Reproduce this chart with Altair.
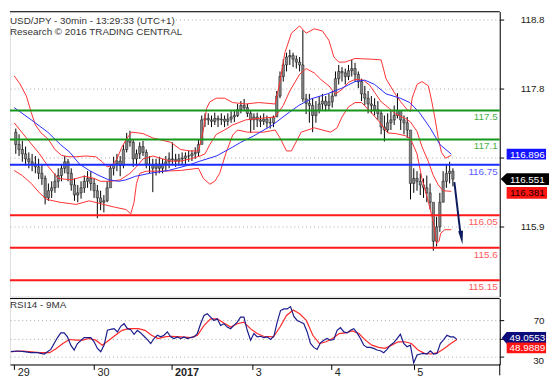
import altair as alt
import pandas as pd

# ---------------- data ----------------
bar_index = list(range(-2, 267, 2))          # 30-min bar number (0 = 29 Dec 00:00)
first_open = 117.20
bar_high = [117.25,117.17,117.08,117.00,116.92,116.90,116.87,116.83,116.76,116.60,
            116.49,116.52,116.63,116.70,116.76,116.87,116.83,116.70,116.56,116.47,
            116.52,116.60,116.66,116.66,116.56,116.47,116.39,116.33,116.52,116.76,
            116.86,116.90,116.87,117.03,117.19,117.22,117.10,116.96,117.06,117.08,
            116.96,116.87,116.83,116.83,116.86,116.83,116.87,116.92,117.06,116.90,
            116.90,116.92,116.92,116.94,116.95,116.99,117.10,117.43,117.46,117.46,
            117.43,117.47,117.43,117.46,117.43,117.46,117.49,117.50,117.59,117.63,
            117.66,117.59,117.50,117.46,117.47,117.43,117.46,117.43,117.41,117.43,
            117.77,118.04,118.21,118.30,118.34,118.30,118.26,118.24,118.61,117.73,
            117.73,117.67,117.63,117.70,117.73,117.70,117.73,117.77,118.04,118.13,
            118.10,118.08,118.13,118.20,118.16,118.04,117.94,117.84,117.77,117.70,
            117.67,117.63,117.50,117.43,117.46,117.50,117.57,117.74,117.50,117.43,
            117.41,117.23,116.70,116.66,116.63,116.56,116.60,116.49,116.16,116.03,
            116.36,116.66,116.76,116.79,116.70]
bar_low = [116.90,116.87,116.79,116.74,116.70,116.66,116.63,116.55,116.47,116.20,
           116.25,116.29,116.36,116.43,116.52,116.63,116.52,116.39,116.25,116.23,
           116.28,116.36,116.43,116.39,116.29,116.01,116.12,116.09,116.23,116.47,
           116.60,116.66,116.59,116.70,116.92,117.00,116.72,116.74,116.83,116.87,
           116.70,116.63,116.37,116.60,116.63,116.63,116.66,116.70,116.74,116.72,
           116.74,116.76,116.76,116.79,116.80,116.83,116.87,117.06,117.27,117.30,
           117.27,117.30,117.27,117.30,117.27,117.29,117.33,117.34,117.41,117.46,
           117.49,117.41,117.19,117.23,117.27,117.27,117.30,117.26,117.25,117.27,
           117.41,117.67,117.90,118.04,118.13,118.10,118.08,118.04,117.62,117.45,
           117.33,117.20,117.33,117.46,117.51,117.49,117.50,117.54,117.70,117.86,
           117.90,117.86,117.92,117.97,117.90,117.81,117.63,117.57,117.46,117.46,
           117.43,117.37,117.17,117.07,117.19,117.23,117.30,117.39,117.23,117.17,
           117.12,116.27,116.36,116.39,116.33,116.29,116.23,116.13,115.56,115.62,
           115.82,116.29,116.43,116.49,116.45]
bar_close = [117.03,116.96,116.90,116.83,116.79,116.76,116.72,116.63,116.56,116.29,
             116.39,116.43,116.52,116.60,116.70,116.79,116.63,116.47,116.33,116.36,
             116.43,116.52,116.56,116.49,116.39,116.29,116.23,116.25,116.43,116.70,
             116.76,116.80,116.74,116.96,117.10,117.06,116.83,116.90,117.00,116.92,
             116.76,116.74,116.70,116.76,116.70,116.76,116.79,116.83,116.82,116.80,
             116.83,116.84,116.87,116.87,116.90,116.92,117.03,117.37,117.39,117.37,
             117.35,117.39,117.37,117.38,117.35,117.38,117.41,117.43,117.51,117.57,
             117.54,117.46,117.37,117.41,117.37,117.35,117.38,117.33,117.33,117.41,
             117.70,117.97,118.13,118.24,118.26,118.21,118.17,118.13,117.66,117.60,
             117.57,117.43,117.50,117.59,117.63,117.57,117.62,117.70,117.94,118.04,
             118.02,117.97,118.05,118.08,118.00,117.90,117.73,117.67,117.59,117.57,
             117.51,117.46,117.27,117.23,117.33,117.37,117.43,117.50,117.37,117.33,
             117.23,116.49,116.56,116.52,116.47,116.43,116.36,116.23,115.69,115.89,
             116.23,116.52,116.63,116.66,116.55]

bb_upper_idx = [-3,0.5,4.5,7.5,10,13.5,18,22,26,30,35,41,47,51,54,57,60,63,66,69,
                73,76,82,93,99,105,110,113,115,117,121,126,131,139,147,157,160,163,167,172,
                176,181,186,190,193,196,200,206,216,222,225,230,234,238,240,241,244,247,251,253,
                255,257,259,261.5,265]
bb_upper = [117.98,117.87,117.70,117.47,117.30,117.19,117.10,116.96,116.88,116.86,116.86,116.87,116.86,116.79,116.72,116.74,116.83,116.99,117.11,117.20,
            117.19,117.18,117.12,117.06,116.96,116.94,116.94,117.23,117.53,117.62,117.67,117.67,117.61,117.59,117.61,117.59,117.90,118.30,118.57,118.67,
            118.57,118.63,118.60,118.47,118.24,118.17,118.17,118.22,118.21,118.20,117.94,117.75,117.62,117.51,117.49,117.67,117.86,117.90,117.84,117.63,
            117.39,117.12,116.92,116.84,116.88]
bb_mid_idx = [-3,4.5,12.5,18,24,32,40,46,50,56,62,68,72,76,82,88,93,99,105,111,
              114,117,121,126,131,139,147,157,162,166,172,176,181,185,190,194,198,202,206,211,
              215,218,222,227,231,237,240,244,247,251,254,257,260,265]
bb_mid = [117.33,117.12,116.90,116.72,116.56,116.54,116.59,116.56,116.52,116.52,116.54,116.63,116.72,116.83,116.87,116.83,116.80,116.80,116.83,116.87,
          116.90,117.03,117.17,117.23,117.30,117.37,117.39,117.41,117.57,117.77,118.00,118.08,118.02,117.93,117.84,117.73,117.79,117.89,117.93,117.92,
          117.85,117.75,117.62,117.53,117.45,117.39,117.34,117.21,117.00,116.79,116.60,116.47,116.39,116.381]
bb_low_idx = [-3,2,7.5,12.5,17,25,35,43,50,59,65.5,68.5,70.5,72,74,78,88,99,110,113,
              117,120,123,127,131,134,140,150,157,160,164,167,173,181,191,195,198,202,206,210,
              216,221,226,231,237,240,244,247,251,254,256,257.5,258.5,261,265]
bb_low = [116.67,116.60,116.49,116.36,116.27,116.23,116.20,116.25,116.21,116.16,116.13,116.07,116.23,116.49,116.63,116.66,116.66,116.67,116.70,116.56,
          116.48,116.52,116.63,116.92,117.16,117.23,117.20,117.20,117.23,117.12,116.94,116.94,117.20,117.26,117.20,117.26,117.41,117.55,117.61,117.61,
          117.47,117.34,117.19,117.18,117.15,117.11,116.90,116.56,116.23,115.96,115.66,115.69,115.80,115.85,115.85]
ma_idx = [-3,7.5,17.6,25.3,31.2,37,43,49,55,61,65.5,71.5,80,91.6,103.4,111,121,130.7,136,144,
          155.5,163,171.5,179,189,198,206,212,218,225,233.7,239.6,245.5,252,258,265]
ma_val = [117.54,117.37,117.20,117.03,116.92,116.76,116.67,116.60,116.54,116.52,116.54,116.59,116.63,116.67,116.74,116.80,116.87,116.99,117.06,117.15,
          117.30,117.43,117.57,117.66,117.73,117.81,117.90,117.92,117.86,117.73,117.67,117.61,117.47,117.26,117.03,116.896]

rsi_idx = [-2,2,6,10,14,18,22,26,28,30,32,34,36,38,42,46,48,50,52,54,
           56,58,60,62,64,66,68,70,72,74,76,78,80,82,84,86,88,90,92,94,
           96,98,100,102,104,106,108,110,112,114,116,118,120,122,124,126,128,130,132,134,
           136,138,140,142,144,146,148,150,152,154,156,158,160,162,164,166,168,170,172,174,
           176,178,180,182,184,186,188,190,192,194,196,198,200,202,204,206,208,210,212,214,
           216,218,220,222,224,226,228,230,232,234,236,238,240,242,244,246,248,250,252,254,
           256,258,260,262,264,266]
rsi_val = [35.5,36.2,35.5,34.4,34.4,32.9,38.0,51.1,56.2,56.2,51.8,42.7,37.3,44.5,51.1,51.1,46.4,39.1,35.5,42.7,
           59.1,60.2,60.9,57.3,63.5,66.4,60.9,59.8,54.7,59.1,56.2,52.5,48.9,44.5,50.0,53.6,51.8,53.6,57.3,51.8,
           50.0,51.8,50.0,51.8,50.0,51.1,51.8,55.5,66.4,75.5,77.3,73.6,70.0,71.8,64.5,66.4,62.7,60.9,64.5,68.2,
           73.6,73.6,59.1,48.2,55.5,51.8,52.5,51.1,51.8,48.9,52.5,68.2,80.9,82.7,82.7,85.3,74.4,70.0,68.2,66.4,
           57.3,44.5,40.2,38.0,45.3,48.2,50.0,48.2,48.9,59.1,62.0,57.3,56.2,59.1,60.9,56.2,50.0,42.7,40.2,40.2,
           39.1,37.3,36.5,34.4,38.0,42.7,45.3,50.0,54.7,44.5,40.9,42.7,23.0,31.8,32.9,33.6,32.9,36.5,32.9,33.6,
           44.5,48.9,53.6,51.8,51.8,49.0553]
rsi_ma_idx = [-2,5.5,15.4,21.3,25.3,29.2,33.2,37.1,41.1,45,49,52.9,56.9,60.8,64.8,68.7,74.6,78.6,82.5,86.5,
              90.4,94.4,100.3,106.2,110.1,114.1,118,122,125.9,130.1,134,138,141.9,145.9,149.8,155.7,159.7,163.6,167.6,171.5,
              175.5,179.4,183.4,187.3,191.3,195.2,199.2,203.1,207.1,211,214.9,218.9,222.8,226.8,230.7,234.7,238.6,242.6,246.5,250.5,
              254.4,258.4,262.3,266]
rsi_ma_val = [35.5,36.2,34.4,34.4,39.1,44.5,48.9,48.2,48.2,50.0,48.2,42.7,48.2,53.6,59.1,60.9,60.9,59.1,53.6,50.0,
              51.8,52.5,51.8,51.1,53.6,64.5,71.8,71.8,67.1,62.7,66.4,68.2,60.9,55.5,52.5,51.8,62.7,75.5,81.6,77.3,
              70.0,53.6,44.5,46.4,50.0,55.5,56.2,58.4,55.5,48.2,42.7,40.2,39.1,42.7,46.4,46.4,44.5,37.3,33.6,32.9,
              34.4,39.1,44.5,48.9889]

levels = [117.5, 117.1, 116.75, 116.05, 115.6, 115.15]
level_labels = ["117.5", "117.1", "116.75", "116.05", "115.6", "115.15"]
level_colors = ["#16961a", "#16961a", "#1a2cff", "#ff1a1a", "#ff1a1a", "#ff1a1a"]
level_text_colors = ["#48b048", "#48b048", "#5a5aff", "#ff5a5a", "#ff5a5a", "#ff5a5a"]

arrow_idx = [266.9, 270.5]
arrow_price = [116.51, 115.82]
arrow_head_idx = [271.3]
arrow_head_price = [115.74]

price_ticks = [118.76, 117.8, 116.85, 115.9]
price_tick_labels = ["118.8", "117.8", "", "115.9"]
rsi_ticks = [30, 50, 70]
rsi_tick_labels = ["", "", "70"]       # "30" is drawn as a separate text below
rsi_low_label_value = [30]
rsi_low_label = ["30"]
day_ticks = [0, 48, 94.5, 143, 190.5, 240]
day_labels = ["29", "30", "2017", "3", "4", "5"]

last_ma, last_close, last_mid = 116.896, 116.551, 116.381
last_rsi, last_rsi_ma = 49.0553, 48.9889

# ---------------- layout ----------------
W, H_MAIN, H_RSI = 497, 289, 67
FONT = "Liberation Sans"
TXT = "#333333"

x_scale = alt.Scale(domain=[-2.55, 291.7], nice=False, zero=False)
y_scale = alt.Scale(domain=[114.926, 118.867], nice=False, zero=False)
r_scale = alt.Scale(domain=[21.3, 94.3], nice=False, zero=False)


def expr_labels(vals, labs):
    s = "''"
    for v, l in reversed(list(zip(vals, labs))):
        s = f"(datum.value == {v} ? '{l}' : {s})"
    return s


def right_axis(vals, labs):
    return alt.Axis(orient="right", values=vals, labelExpr=expr_labels(vals, labs), title=None,
                    tickSize=4, tickColor="#000", domainColor="#000", domainWidth=1,
                    labelAlign="right", labelPadding=41, labelFontSize=10, labelColor="#222",
                    labelFont=FONT, labelBaseline="middle", grid=True, gridDash=[1, 3],
                    gridColor="#a8a8a8", labelOverlap=False, labelFlush=False)


y_axis_main = right_axis(price_ticks, price_tick_labels)
y_axis_rsi = right_axis(rsi_ticks, rsi_tick_labels)
x_axis = alt.Axis(values=day_ticks, labelExpr=expr_labels(day_ticks, day_labels), title=None,
                  labelAlign="left", labelBaseline="top", labelOffset=3, labelPadding=-3,
                  tickSize=5, tickColor="#000", domainColor="#000", labelFontSize=11,
                  labelColor="#222", labelFont=FONT, grid=False, labelOverlap=False,
                  labelFlush=False, labelBound=False,
                  labelFontWeight={"condition": {"test": "datum.value == 94.5", "value": "bold"},
                                   "value": "normal"})

XM = alt.X("i:Q", scale=x_scale, axis=None)
XR = alt.X("i:Q", scale=x_scale, axis=x_axis)


def YM(f):
    return alt.Y(f, scale=y_scale, axis=y_axis_main)


def YR(f):
    return alt.Y(f, scale=r_scale, axis=y_axis_rsi)


one = pd.DataFrame({"a": [0]})

bars = pd.DataFrame({"i": bar_index, "high": bar_high, "low": bar_low, "close": bar_close})
bars["open"] = bars["close"].shift(1).fillna(first_open)

wick = alt.Chart(bars).mark_rule(color="#000", strokeWidth=1).encode(x=XM, y=YM("low:Q"), y2="high:Q")
body = alt.Chart(bars).mark_bar(width=2.4, color="#858585", stroke="#111", strokeWidth=0.5).encode(
    x=XM, y=YM("open:Q"), y2="close:Q")


def line(idx, vals, color, width, yfn, xenc):
    df = pd.DataFrame({"i": idx, "v": vals})
    return alt.Chart(df).mark_line(color=color, strokeWidth=width).encode(x=xenc, y=yfn("v:Q"))


upper = line(bb_upper_idx, bb_upper, "#ff3030", 1, YM, XM)
mid = line(bb_mid_idx, bb_mid, "#ff3030", 1, YM, XM)
lower = line(bb_low_idx, bb_low, "#ff3030", 1, YM, XM)
ma = line(ma_idx, ma_val, "#2a2aff", 1, YM, XM)

lv = pd.DataFrame({"p": levels, "lab": level_labels, "c": level_colors, "tc": level_text_colors})
level_rules = alt.Chart(lv).mark_rule(strokeWidth=2).encode(
    y=YM("p:Q"), color=alt.Color("c:N", scale=None))
level_text = alt.Chart(lv).mark_text(align="right", baseline="middle", dy=7, fontSize=10, font=FONT).encode(
    x=alt.value(495), y=YM("p:Q"), text="lab:N", color=alt.Color("tc:N", scale=None))

arrow_line = alt.Chart(pd.DataFrame({"i": arrow_idx, "p": arrow_price})).mark_line(
    color="#0b1a5e", strokeWidth=2).encode(x=XM, y=YM("p:Q"))
arrow_head = alt.Chart(pd.DataFrame({"i": arrow_head_idx, "p": arrow_head_price})).mark_point(
    shape="M-0.35,-1L0.35,-1L0,1Z", size=196, filled=True, color="#0b1a5e", opacity=1,
    strokeWidth=0, angle=352).encode(x=XM, y=YM("p:Q"))


def tag(value, text, fill, width, height, pointer, cx, tx, yfn, yoff=0, tcolor="white"):
    hh = height / width
    if pointer:
        bl = -1 + 2 * pointer / width
        path = f"M-1,0L{bl:.3f},{-hh:.3f}L1,{-hh:.3f}L1,{hh:.3f}L{bl:.3f},{hh:.3f}Z"
    else:
        path = f"M-1,{-hh:.3f}L1,{-hh:.3f}L1,{hh:.3f}L-1,{hh:.3f}Z"
    df = pd.DataFrame({"p": [value], "t": [text]})
    box = alt.Chart(df).mark_point(shape=path, size=width * width, filled=True, color=fill,
                                   opacity=1, strokeWidth=0, yOffset=yoff).encode(
        x=alt.value(cx), y=yfn("p:Q"))
    lab = alt.Chart(df).mark_text(align="center", baseline="middle", fontSize=10, font=FONT,
                                  color=tcolor, yOffset=yoff + 0.5).encode(
        x=alt.value(tx), y=yfn("p:Q"), text="t:N")
    return [box, lab]


main_tags = (tag(last_ma, "116.896", "#1414ff", 40, 11, 0, 524, 525, YM, 0)
             + tag(last_close, "116.551", "#000000", 49, 12, 6, 522.5, 525, YM, 0)
             + tag(last_mid, "116.381", "#ff1414", 41, 12, 0, 524.5, 525, YM, 1.5, "#1a0000"))

title_bg = alt.Chart(one).mark_rect(color="white").encode(
    x=alt.value(0), x2=alt.value(168), y=alt.value(3), y2=alt.value(14))
title1 = alt.Chart(one).mark_text(align="left", baseline="middle", fontSize=10, font=FONT, color=TXT,
                                  text="USD/JPY - 30min - 13:29:33 (UTC+1)").encode(
    x=alt.value(0), y=alt.value(9))
title2 = alt.Chart(one).mark_text(align="left", baseline="middle", fontSize=10, font=FONT, color=TXT,
                                  text="Research \u00a9 2016 TRADING CENTRAL").encode(
    x=alt.value(0), y=alt.value(21))
top_rule = alt.Chart(one).mark_rule(color="#000", strokeWidth=1).encode(
    x=alt.value(0), x2=alt.value(W), y=alt.value(0))

main = alt.layer(wick, body, upper, mid, lower, ma, level_rules, arrow_line, arrow_head,
                 level_text, title_bg, title1, title2, top_rule, *main_tags).properties(
    width=W, height=H_MAIN)

# RSI panel
rsi_line = line(rsi_idx, rsi_val, "#1c1c8c", 1.2, YR, XR)
rsi_ma = line(rsi_ma_idx, rsi_ma_val, "#ff2a2a", 1.2, YR, XR)
sep = alt.Chart(one).mark_rule(color="#000", strokeWidth=1).encode(
    x=alt.value(0), x2=alt.value(W), y=alt.value(0))
axis_ext = alt.Chart(one).mark_rule(color="#000", strokeWidth=1).encode(
    x=alt.value(W), y=alt.value(H_RSI), y2=alt.value(H_RSI + 11))
rsi_title = alt.Chart(one).mark_text(align="left", baseline="middle", fontSize=10, font=FONT, color=TXT,
                                     text="RSI14 - 9MA").encode(x=alt.value(0), y=alt.value(7))
low_lab = alt.Chart(pd.DataFrame({"v": rsi_low_label_value, "t": rsi_low_label})).mark_text(
    align="right", baseline="middle", fontSize=10, font=FONT, color="#222", dy=4).encode(
    x=alt.value(542), y=YR("v:Q"), text="t:N")
rsi_tags = (tag(last_rsi, "49.0553", "#0c0c7a", 45, 12, 5, 521.5, 525, YR, -1.5)
            + tag(last_rsi_ma, "48.9889", "#ff1414", 40, 11, 0, 524, 525, YR, 8.5))

rsi = alt.layer(rsi_ma, rsi_line, sep, axis_ext, rsi_title, low_lab, *rsi_tags).properties(
    width=W, height=H_RSI)

chart = alt.vconcat(main, rsi, spacing=0).configure_view(stroke=None).configure(
    font=FONT).properties(padding=0)

chart.save("out.html", embed_options={"renderer": "svg", "actions": False})
